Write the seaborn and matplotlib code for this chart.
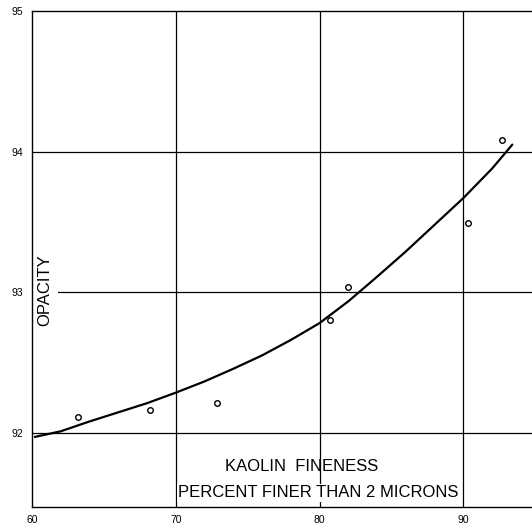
import matplotlib
matplotlib.use("Agg")
import matplotlib.pyplot as plt
import seaborn as sns
import pandas as pd

# measured points (kaolin fineness vs opacity)
fineness = [63.2, 68.2, 72.9, 80.75, 82.0, 90.3, 92.7]
opacity = [92.11, 92.16, 92.21, 92.80, 93.04, 93.49, 94.08]

# fitted curve
curve_x = [60.2, 62, 64, 66, 68, 70, 72, 74, 76, 78, 80, 82, 84, 86, 88, 90, 92, 93.4]
curve_y = [91.97, 92.01, 92.08, 92.145, 92.21, 92.285, 92.365, 92.455, 92.55,
           92.66, 92.78, 92.935, 93.11, 93.29, 93.48, 93.67, 93.88, 94.05]

x_ticks = [60, 70, 80, 90]
y_ticks = [92, 93, 94, 95]

pts = pd.DataFrame({"fineness": fineness, "opacity": opacity})
crv = pd.DataFrame({"x": curve_x, "y": curve_y})

sns.set_style("white")
plt.rcParams['font.family'] = ['Liberation Sans', 'DejaVu Sans']

fig = plt.figure(figsize=(5.32, 5.29), dpi=100)
ax = fig.add_axes([0.060, 0.042, 0.94, 0.937])

ax.set_xlim(60, 94.77)
ax.set_ylim(91.473, 95.0)

# grid lines
for gx in [70, 80, 90]:
    ax.axvline(gx, color="black", lw=0.9, zorder=1)
for gy in [92, 93, 94]:
    ax.axhline(gy, color="black", lw=0.9, zorder=1)

sns.lineplot(data=crv, x="x", y="y", ax=ax, color="black", lw=1.6, zorder=3)
sns.scatterplot(data=pts, x="fineness", y="opacity", ax=ax, s=16,
                facecolor="white", edgecolor="black", linewidth=1.0, zorder=4)

ax.set_xticks(x_ticks)
ax.set_yticks(y_ticks)
ax.set_xticklabels([str(t) for t in x_ticks], fontsize=7.5, color="black")
ax.set_yticklabels([str(t) for t in y_ticks], fontsize=7.5, color="black")
ax.tick_params(length=0, pad=6)
ax.set_xlabel("")
ax.set_ylabel("")

for side in ["left", "top", "bottom"]:
    ax.spines[side].set_color("black")
    ax.spines[side].set_linewidth(1.0)
ax.spines["right"].set_visible(False)

# label boxes sit between the grid and the spines
ax.text(0.026, 0.437, "OPACITY", transform=ax.transAxes, rotation=90,
        fontsize=12, ha="center", va="center", color="black", zorder=2,
        bbox=dict(facecolor="white", edgecolor="none", pad=4.0))
ax.text(0.386, 0.082, "KAOLIN  FINENESS", transform=ax.transAxes,
        fontsize=12, ha="left", va="center", zorder=5, color="black")
ax.text(0.292, 0.028, "PERCENT FINER THAN 2 MICRONS", transform=ax.transAxes,
        fontsize=12, ha="left", va="center", zorder=2, color="black",
        bbox=dict(facecolor="white", edgecolor="none", pad=1.0))

fig.savefig("out.png", dpi=100)
